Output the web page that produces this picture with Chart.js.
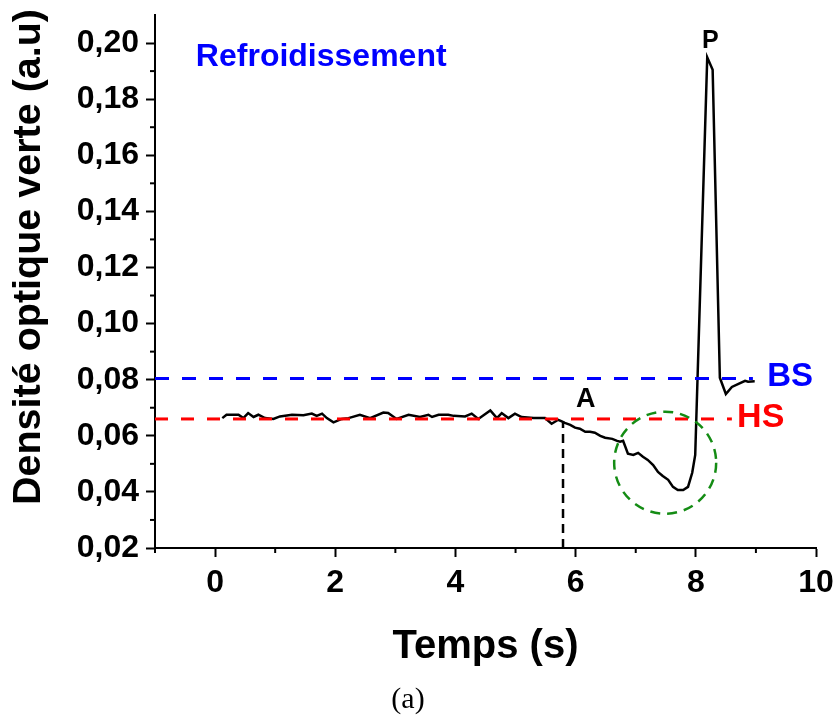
<!DOCTYPE html>
<html lang="fr">
  <head>
    <meta charset="UTF-8" />
    <title>Densité optique verte - Refroidissement</title>
    <script src="https://cdn.jsdelivr.net/npm/chart.js"></script>
    <style>
      body {
        margin: 0;
        background: #ffffff;
      }
      #wrap {
        width: 835px;
        height: 720px;
      }
    </style>
  </head>
  <body>
    <div id="wrap"><canvas id="odChart"></canvas></div>

    <script>
      // measured curve (time in s, optical density in a.u)
      const timeS = [
        0.12, 0.19, 0.39, 0.47, 0.55, 0.64, 0.72, 0.83, 0.97, 1.08, 1.28, 1.47,
        1.61, 1.69, 1.78, 1.86, 1.97, 2.11, 2.22, 2.41, 2.58, 2.8, 2.88, 3.02,
        3.22, 3.41, 3.55, 3.61, 3.72, 3.88, 3.97, 4.16, 4.27, 4.38, 4.58, 4.69,
        4.77, 4.88, 4.99, 5.1, 5.3, 5.49, 5.6, 5.71, 5.77, 5.82, 5.91, 5.99,
        6.07, 6.16, 6.24, 6.32, 6.41, 6.49, 6.61, 6.69, 6.74, 6.79, 6.87, 6.96,
        7.04, 7.12, 7.2, 7.29, 7.37, 7.45, 7.54, 7.62, 7.7, 7.79, 7.87, 7.94,
        7.99, 8.19, 8.28, 8.4, 8.5, 8.6, 8.71, 8.82, 8.87, 8.98
      ];
      const density = [
        0.0663, 0.0675, 0.0675, 0.0663, 0.0681, 0.0667, 0.0675, 0.0663, 0.066,
        0.0669, 0.0675, 0.0673, 0.0679, 0.0671, 0.0679, 0.0663, 0.0648, 0.066,
        0.0663, 0.0675, 0.0663, 0.0683, 0.0681, 0.066, 0.0675, 0.0667, 0.0675,
        0.0667, 0.0675, 0.0675, 0.0671, 0.0669, 0.0679, 0.066, 0.069, 0.0663,
        0.0681, 0.0663, 0.0679, 0.0667, 0.0663, 0.0663, 0.0643, 0.0657, 0.0651,
        0.0646, 0.0639, 0.0629, 0.0625, 0.0614, 0.0614, 0.0611, 0.06, 0.0593,
        0.0589, 0.0582, 0.0579, 0.0582, 0.0536, 0.0532, 0.0539, 0.0525, 0.0514,
        0.0496, 0.0471, 0.0457, 0.0443, 0.0418, 0.0407, 0.0407, 0.0418, 0.0468,
        0.0532, 0.1949, 0.1905, 0.0807, 0.0749, 0.0774, 0.0785, 0.0796, 0.0793,
        0.0794
      ];

      // reference levels
      const bsLevel = 0.0804;
      const bsEnd = 8.95;
      const hsLevel = 0.066;
      const hsEnd = 8.6;
      const pointA = { x: 5.79, y: 0.0652 };
      const circleCenter = { x: 7.49, y: 0.0504 };

      // axes
      const xRange = [-1, 10];
      const yRange = [0.02, 0.21];
      const xMinorTicks = [-1, 1, 3, 5, 7, 9];
      const yMinorTicks = [0.03, 0.05, 0.07, 0.09, 0.11, 0.13, 0.15, 0.17, 0.19];

      // annotations
      const labels = [
        { text: "Refroidissement", x: -0.32, y: 0.195, color: "#0000ff", size: 32, align: "left" },
        { text: "P", x: 8.24, y: 0.2007, color: "#000000", size: 25, align: "center" },
        { text: "A", x: 6.17, y: 0.0729, color: "#000000", size: 27, align: "center" },
        { text: "BS", x: 9.57, y: 0.0811, color: "#0000ff", size: 33, align: "center" },
        { text: "HS", x: 9.08, y: 0.0664, color: "#ff0000", size: 34, align: "center" }
      ];

      const curve = timeS.map((t, i) => ({ x: t, y: density[i] }));

      const annotationPlugin = {
        id: "annotations",
        afterDatasetsDraw(chart) {
          const ctx = chart.ctx;
          const xs = chart.scales.x;
          const ys = chart.scales.y;

          // minor ticks, outward
          ctx.save();
          ctx.strokeStyle = "#000";
          ctx.lineWidth = 2;
          xMinorTicks.forEach((v) => {
            const px = xs.getPixelForValue(v);
            ctx.beginPath();
            ctx.moveTo(px, ys.bottom);
            ctx.lineTo(px, ys.bottom + 5);
            ctx.stroke();
          });
          yMinorTicks.forEach((v) => {
            const py = ys.getPixelForValue(v);
            ctx.beginPath();
            ctx.moveTo(xs.left, py);
            ctx.lineTo(xs.left - 5, py);
            ctx.stroke();
          });

          // dashed circle round the dip
          ctx.strokeStyle = "#148c14";
          ctx.lineWidth = 2.5;
          ctx.setLineDash([10, 7]);
          ctx.beginPath();
          ctx.arc(
            xs.getPixelForValue(circleCenter.x),
            ys.getPixelForValue(circleCenter.y),
            51, 0, Math.PI * 2
          );
          ctx.stroke();
          ctx.setLineDash([]);

          // text labels
          ctx.textBaseline = "middle";
          labels.forEach((l) => {
            ctx.font = "bold " + l.size + "px 'Liberation Sans', Arial, sans-serif";
            ctx.fillStyle = l.color;
            ctx.textAlign = l.align;
            ctx.fillText(l.text, xs.getPixelForValue(l.x), ys.getPixelForValue(l.y));
          });

          // y axis title
          ctx.translate(29, 257);
          ctx.rotate(-Math.PI / 2);
          ctx.textAlign = "center";
          ctx.fillStyle = "#000";
          ctx.font = "bold 39.5px 'Liberation Sans', Arial, sans-serif";
          ctx.fillText("Densité optique verte (a.u)", 0, 0);
          ctx.restore();
        }
      };

      new Chart(document.getElementById("odChart"), {
        type: "line",
        data: {
          datasets: [
            {
              label: "BS",
              data: [{ x: xRange[0], y: bsLevel }, { x: bsEnd, y: bsLevel }],
              borderColor: "#0000ff",
              borderWidth: 3,
              borderDash: [14, 13],
              pointRadius: 0
            },
            {
              label: "HS",
              data: [{ x: xRange[0], y: hsLevel }, { x: hsEnd, y: hsLevel }],
              borderColor: "#ff0000",
              borderWidth: 3,
              borderDash: [13, 13],
              pointRadius: 0
            },
            {
              label: "A",
              data: [{ x: pointA.x, y: yRange[0] }, { x: pointA.x, y: pointA.y }],
              borderColor: "#000000",
              borderWidth: 2.5,
              borderDash: [9, 6],
              pointRadius: 0
            },
            {
              label: "Densité",
              data: curve,
              borderColor: "#000000",
              borderWidth: 2.5,
              pointRadius: 0,
              tension: 0
            }
          ]
        },
        options: {
          responsive: true,
          maintainAspectRatio: false,
          animation: false,
          layout: {
            padding: { top: 15, right: 19, left: 0, bottom: 0 }
          },
          plugins: {
            legend: { display: false },
            tooltip: { enabled: false },
            title: {
              display: true,
              position: "bottom",
              text: "(a)",
              color: "#000",
              font: { family: "'Liberation Serif', 'DejaVu Serif', serif", size: 30, weight: "normal", lineHeight: 1 },
              padding: { top: 8, bottom: 5 }
            }
          },
          scales: {
            x: {
              type: "linear",
              min: xRange[0],
              max: xRange[1],
              ticks: {
                stepSize: 2,
                includeBounds: false,
                color: "#000",
                padding: 7,
                font: { family: "'Liberation Sans', Arial, sans-serif", size: 32, weight: "bold" }
              },
              grid: {
                drawOnChartArea: false,
                drawTicks: true,
                tickLength: 9,
                tickColor: "#000",
                tickWidth: 2
              },
              border: { display: true, color: "#000", width: 2 },
              title: {
                display: true,
                text: "Temps (s)",
                color: "#000",
                font: { family: "'Liberation Sans', Arial, sans-serif", size: 40, weight: "bold" },
                padding: { top: 0, bottom: 6 }
              },
              afterFit(scale) {
                scale.height = 129;
                scale.paddingLeft = 0;
                scale.paddingRight = 0;
              }
            },
            y: {
              type: "linear",
              min: yRange[0],
              max: yRange[1],
              ticks: {
                stepSize: 0.02,
                includeBounds: false,
                color: "#000",
                padding: 7,
                font: { family: "'Liberation Sans', Arial, sans-serif", size: 32, weight: "bold" },
                callback: (v) => v.toFixed(2).replace(".", ",")
              },
              grid: {
                drawOnChartArea: false,
                drawTicks: true,
                tickLength: 9,
                tickColor: "#000",
                tickWidth: 2
              },
              border: { display: true, color: "#000", width: 2 },
              afterFit(scale) {
                scale.width = 155;
                scale.paddingTop = 0;
                scale.paddingBottom = 0;
              }
            }
          }
        },
        plugins: [annotationPlugin]
      });
    </script>
  </body>
</html>
